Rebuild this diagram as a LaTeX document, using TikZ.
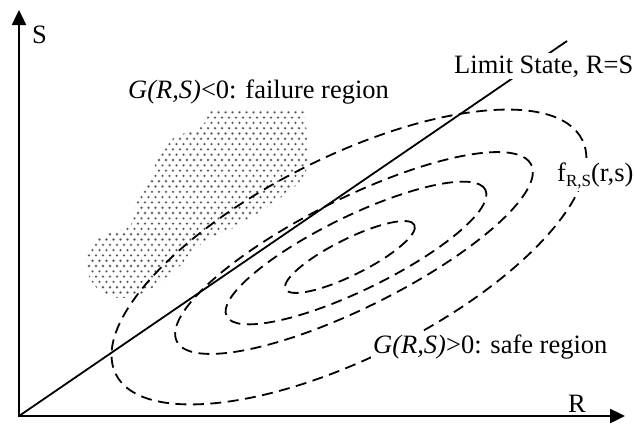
\documentclass[tikz,border=0pt]{standalone}
\usepackage{fontspec}
\setmainfont{Liberation Serif}
\usetikzlibrary{arrows.meta}
\begin{document}
\begin{tikzpicture}[x=1pt,y=-1pt,
  axisline/.style={line width=2.4pt,-{Triangle[length=15pt,width=14pt]}},
  limitline/.style={line width=1.8pt},
  contour/.style={line width=1.8pt,dash pattern=on 11pt off 6.5pt},
  lbl/.style={inner sep=0pt,anchor=base west,font=\fontsize{26.5}{30}\selectfont},
  wlbl/.style={lbl,fill=white,inner sep=2pt},
  dothalo/.style={fill=gray!25},
  dotcore/.style={fill=black!70}
]
\useasboundingbox (0,0) rectangle (636,423);

% failure region (dotted blob)
\begin{scope}
\path[clip] plot[smooth cycle,tension=0.55] coordinates {
 (213,110) (297,110) (305,119) (307,140) (307,167) (300,181) (287,193)
 (267,207) (237,226) (213,237) (193,250) (180,266) (163,280) (143,293)
 (120,298) (100,291) (88,274) (87,257) (93,241) (113,232) (130,226)
 (135,210) (140,193) (152,177) (157,157) (167,143) (180,135) (197,129) (207,120)};
\foreach \j in {0,...,37}{
  \foreach \i in {0,...,33}{
    \fill[dothalo] ({82+7*\i+3.5*mod(\j,2)},{107+5.3*\j}) circle[radius=1.8pt];
    \fill[dotcore] ({82+7*\i+3.5*mod(\j,2)},{107+5.3*\j}) circle[radius=1.05pt];
  }}
\end{scope}

% contours of the joint density
\coordinate (c1) at (350,257);
\coordinate (c2) at (356,253);
\coordinate (c3) at (354,253);
\coordinate (c4) at (349,257);
\draw[contour,rotate around={26.5:(c1)}] (c1) ellipse [x radius=72pt,y radius=18pt];
\draw[contour,rotate around={26:(c2)}] (c2) ellipse [x radius=144pt,y radius=37pt];
\draw[contour,rotate around={26.5:(c3)}] (c3) ellipse [x radius=198pt,y radius=54.5pt];
\draw[contour,rotate around={26.7:(c4)}] (c4) ellipse [x radius=261pt,y radius=100pt];

% axes
\coordinate (O) at (19,416);
\coordinate (Otop) at (19,417.2);
\coordinate (Oleft) at (17.8,416);
\coordinate (Stip) at (19,10);
\coordinate (Rtip) at (625,416);
\coordinate (Ltop) at (567,41);
\draw[limitline] (O) -- (Ltop);
\draw[axisline] (Otop) -- (Stip);
\draw[axisline] (Oleft) -- (Rtip);

% labels
\node[lbl] (Slab) at (32,43) {S};
\node[lbl] (Rlab) at (568,412) {R};
\node[wlbl] (limit) at (452,73) {Limit State, R=S};
\node[lbl] (fail) at (128,98) {\textit{G(R,S)}<0: failure region};
\node[wlbl] (safe) at (371,353) {\textit{G(R,S)}>0: safe region};
\node[wlbl] (dens) at (555,181) {f{\fontsize{17}{17}\selectfont\raisebox{-5pt}{R,S}}(r,s)};
\end{tikzpicture}
\end{document}
